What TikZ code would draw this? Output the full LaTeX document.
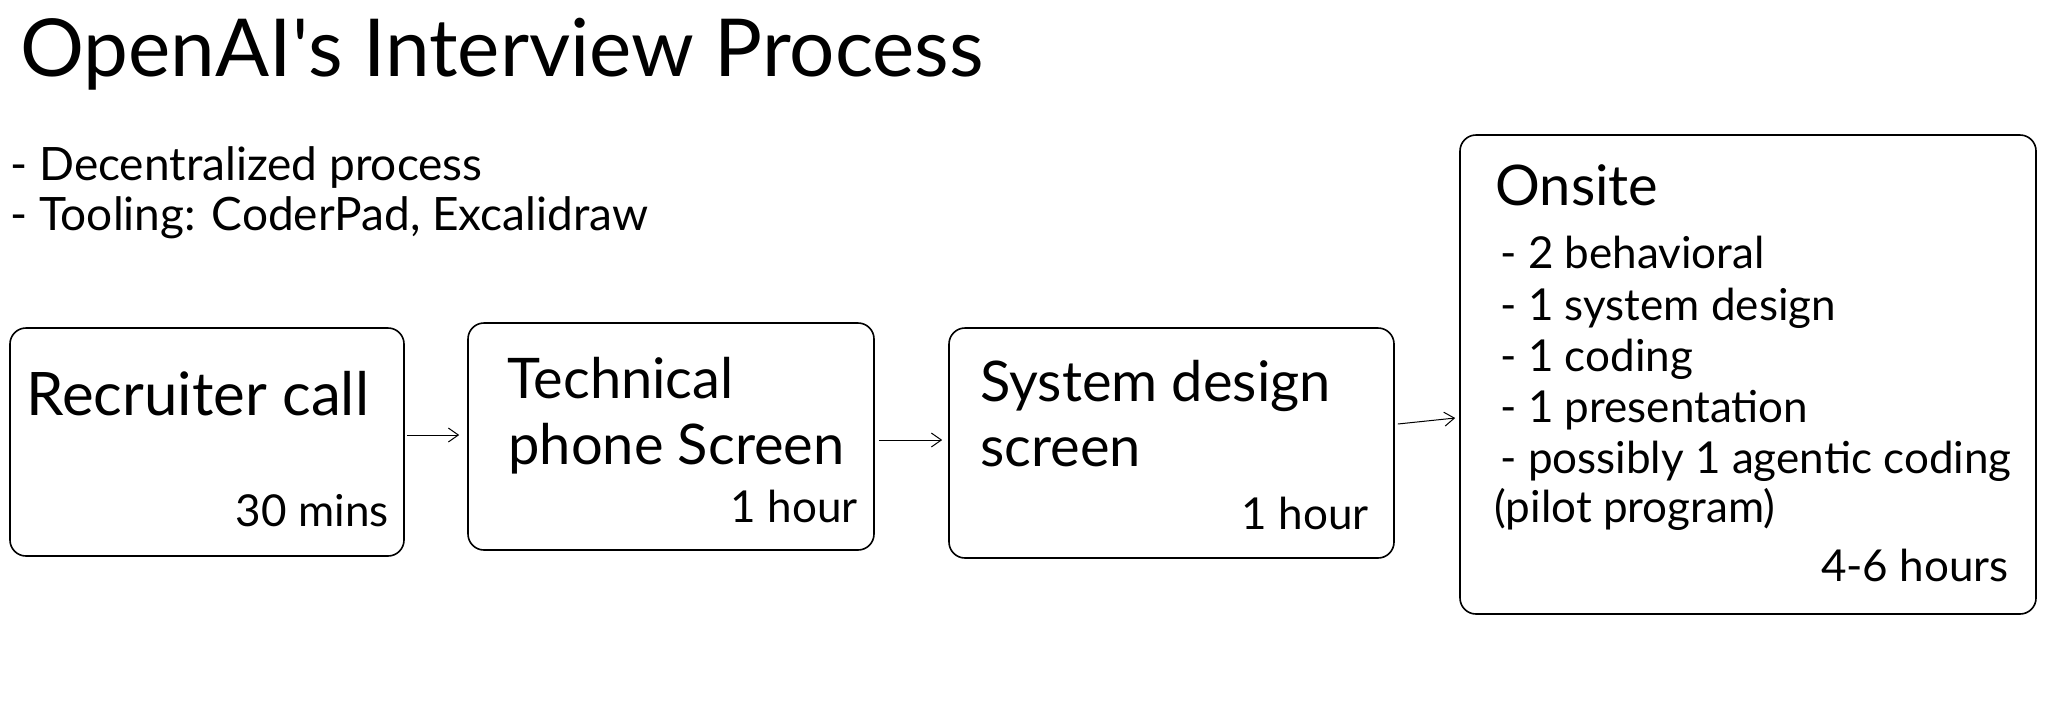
\documentclass[tikz,border=0pt]{standalone}
\usepackage{fontspec}
\setmainfont{Lato}
\usetikzlibrary{arrows.meta}
\begin{document}
\begin{tikzpicture}[x=0.5pt,y=-0.5pt,
  box/.style={draw, line width=0.8pt, rounded corners=8pt, inner sep=0pt},
  lbl/.style={anchor=base west, inner sep=0pt},
  lblr/.style={anchor=base east, inner sep=0pt},
  arr/.style={-{Straight Barb[length=5pt,width=7pt]}, line width=0.5pt},
  titlef/.style={font=\fontsize{40}{44}\selectfont},
  headf/.style={font=\fontsize{28}{32}\selectfont},
  notef/.style={font=\fontsize{23}{26}\selectfont},
  smallf/.style={font=\fontsize{22}{26}\selectfont}]
\useasboundingbox[fill=white] (0,0) rectangle (2048,703);

% boxes
\node[box, minimum width=197pt, minimum height=114pt] (b1) at (207,442) {};
\node[box, minimum width=203pt, minimum height=113.5pt] (b2) at (671,436.5) {};
\node[box, minimum width=222.5pt, minimum height=115pt] (b3) at (1171.5,443) {};
\node[box, minimum width=288pt, minimum height=239.5pt] (b4) at (1748,374.5) {};

% title and notes
\node[lbl, titlef] (title) at (20,76) {OpenAI\textquotesingle s Interview Process};
\node[lbl, notef] (n1) at (10,180) {- Decentralized process};
\node[lbl, notef] (n2) at (10,230) {- Tooling: CoderPad, Excalidraw};

% box 1
\node[lbl, headf, font=\fontsize{30}{34}\selectfont] (t1) at (26,415) {Recruiter call};
\node[lblr, smallf] (d1) at (389,526) {30 mins};
% box 2
\node[lbl, headf] (t2a) at (507,398) {Technical};
\node[lbl, headf] (t2b) at (508,464) {phone Screen};
\node[lblr, smallf] (d2) at (858,522) {1 hour};
% box 3
\node[lbl, headf] (t3a) at (980,401) {System design};
\node[lbl, headf] (t3b) at (980,466) {screen};
\node[lblr, smallf] (d3) at (1369,529) {1 hour};
% box 4
\node[lbl, headf] (t4) at (1495,205) {Onsite};
\node[lbl, smallf] (l1) at (1500,268) {- 2 behavioral};
\node[lbl, smallf] (l2) at (1500,320) {- 1 system design};
\node[lbl, smallf] (l3) at (1500,371) {- 1 coding};
\node[lbl, smallf] (l4) at (1500,422) {- 1 presentation};
\node[lbl, smallf] (l5) at (1500,473) {- possibly 1 agentic coding};
\node[lbl, smallf] (l6) at (1494,522) {(pilot program)};
\node[lblr, smallf] (d4) at (2009,581) {4-6 hours};

% connectors
\draw[arr] ([shift={(2,-7)}]b1.east) -- ([shift={(-8,-1.5)}]b2.west);
\draw[arr] ([shift={(4,3.5)}]b2.east) -- ([shift={(-6,-3)}]b3.west);
\draw[arr] ([shift={(3,-19)}]b3.east) -- ([shift={(-4,43.5)}]b4.west);
\end{tikzpicture}
\end{document}
